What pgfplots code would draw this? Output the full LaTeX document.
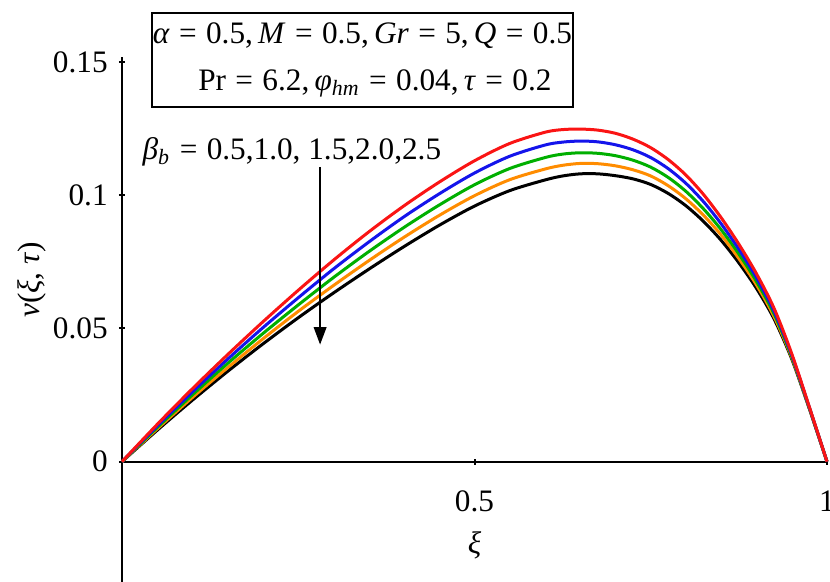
\documentclass[border=0pt]{standalone}
\usepackage{fontspec}
\setmainfont{Liberation Serif}
\usepackage{pgfplots}
\pgfplotsset{compat=1.18}
\usetikzlibrary{arrows.meta}

\pgfplotstableread{
x      r       b       g       o       k
0      0       0       0       0       0
0.05   0.0140  0.0134  0.0128  0.0123  0.0118
0.1    0.0274  0.0262  0.0251  0.0241  0.0231
0.15   0.0402  0.0385  0.0369  0.0353  0.0339
0.2    0.0525  0.0503  0.0481  0.0461  0.0442
0.25   0.0643  0.0615  0.0588  0.0564  0.0540
0.3    0.0756  0.0723  0.0691  0.0661  0.0633
0.35   0.0862  0.0824  0.0788  0.0754  0.0722
0.4    0.0960  0.0919  0.0879  0.0842  0.0807
0.45   0.1049  0.1005  0.0963  0.0924  0.0887
0.5    0.1129  0.1083  0.1039  0.0998  0.0959
0.55   0.1194  0.1146  0.1100  0.1058  0.1017
0.6    0.1236  0.1188  0.1141  0.1098  0.1057
0.625  0.1246  0.1199  0.1154  0.1112  0.1072
0.65   0.1248  0.1203  0.1159  0.1119  0.1080
0.675  0.1244  0.1200  0.1157  0.1118  0.1080
0.7    0.1232  0.1189  0.1148  0.1110  0.1073
0.725  0.1210  0.1170  0.1131  0.1095  0.1061
0.75   0.1178  0.1141  0.1105  0.1072  0.1040
0.775  0.1133  0.1099  0.1066  0.1035  0.1006
0.8    0.1075  0.1044  0.1014  0.0986  0.0960
0.825  0.1002  0.0975  0.0948  0.0924  0.0901
0.85   0.0915  0.0892  0.0870  0.0850  0.0830
0.875  0.0816  0.0797  0.0779  0.0762  0.0746
0.9    0.0705  0.0690  0.0676  0.0663  0.0650
0.925  0.0575  0.0564  0.0554  0.0544  0.0535
0.95   0.0405  0.0400  0.0394  0.0390  0.0385
0.975  0.0205  0.0203  0.0201  0.0200  0.0198
1      0       0       0       0       0
}\datatab

\definecolor{cred}{RGB}{250,20,20}
\definecolor{cblue}{RGB}{20,20,235}
\definecolor{cgreen}{RGB}{0,175,0}
\definecolor{corange}{RGB}{255,140,0}

\newcommand{\eq}{\hspace{0.3em}=\hspace{0.3em}}

\begin{document}
\begin{tikzpicture}[font=\fontsize{12.5}{15}\selectfont]
\begin{axis}[
  scale only axis, width=282pt, height=210pt,
  xmin=0, xmax=1, ymin=-0.045, ymax=0.152,
  axis x line=middle, axis y line=left,
  axis line style={-, line width=0.8pt, black},
  hide obscured x ticks=false, hide obscured y ticks=false,
  xtick={0.5,1}, xticklabels={0.5,1},
  ytick={0,0.05,0.1,0.15}, yticklabels={0,0.05,0.1,0.15},
  /pgf/number format/assume math mode=true,
  tick align=center, major tick length=2.4pt,
  tick style={line width=0.8pt, black},
  xticklabel style={yshift=-7pt},
  yticklabel style={xshift=-1pt},
  clip=false,
]
\addplot[black, line width=1.2pt, smooth] table[x=x,y=k] {\datatab};
\addplot[corange, line width=1.2pt, smooth] table[x=x,y=o] {\datatab};
\addplot[cgreen, line width=1.2pt, smooth] table[x=x,y=g] {\datatab};
\addplot[cblue, line width=1.2pt, smooth] table[x=x,y=b] {\datatab};
\addplot[cred, line width=1.2pt, smooth] table[x=x,y=r] {\datatab};

\node[draw, line width=0.9pt, minimum width=168.4pt, minimum height=37.6pt,
      inner sep=0pt, align=center, font=\fontsize{12.5}{18.8}\selectfont]
  at (axis cs:0.341,0.1507)
  {\textit{α}\eq0.5,\,\textit{M}\eq0.5,\,\textit{Gr}\eq5,\,\textit{Q}\eq0.5\\
   \hspace*{10pt}Pr\eq6.2,\,\textit{φ}\textsubscript{\textit{hm}}\eq0.04,\,\textit{τ}\eq0.2};

\node at (axis cs:0.241,0.1162)
  {\textit{β}\textsubscript{\textit{b}}\eq0.5,1.0, 1.5,2.0,2.5};
\draw[-{Triangle[length=7pt,width=5pt]}, line width=0.8pt]
  (axis cs:0.281,0.1106) -- (axis cs:0.281,0.0439);

\node at (axis cs:0.5,-0.0315) {\textit{ξ}};
\node[rotate=90] at (axis cs:-0.1277,0.0682)
  {\textit{v}(\textit{ξ}, \textit{τ})};

\coordinate (bbl) at (axis cs:-0.17305,-0.045);
\coordinate (btr) at (axis cs:1.00426,0.17323);
\end{axis}
\pgfresetboundingbox
\path[use as bounding box] (bbl) rectangle (btr);
\end{tikzpicture}
\end{document}
